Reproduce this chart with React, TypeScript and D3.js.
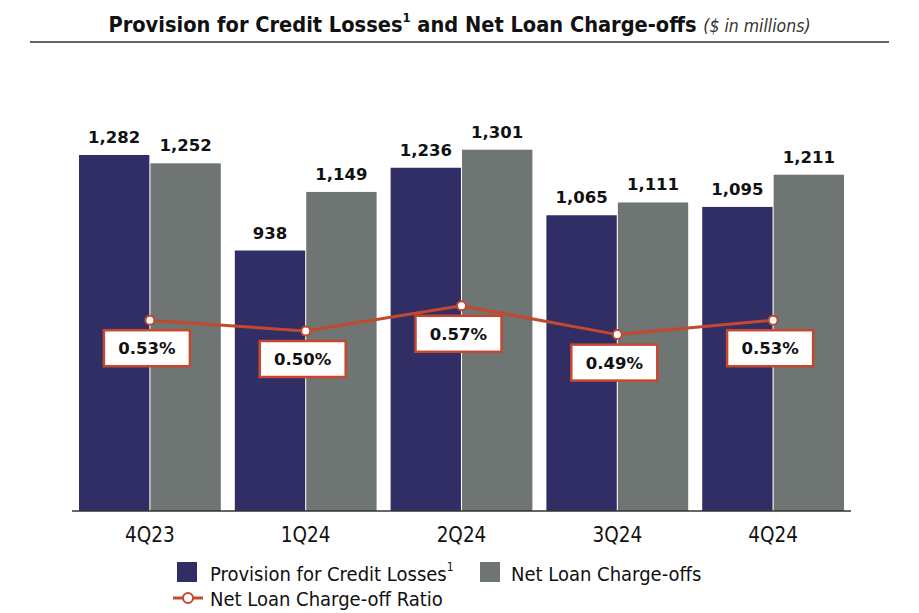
import React from "react";
import * as d3 from "d3";

const categories = ["4Q23", "1Q24", "2Q24", "3Q24", "4Q24"];
const provision = [1282, 938, 1236, 1065, 1095];
const chargeOffs = [1252, 1149, 1301, 1111, 1211];
const ratio = [0.53, 0.5, 0.57, 0.49, 0.53];
const seriesNames = ["Provision for Credit Losses", "Net Loan Charge-offs"];
const lineName = "Net Loan Charge-off Ratio";

const W = 919;
const H = 613;
const NAVY = "#312e66";
const GRAY = "#6e7572";
const RED = "#c5482e";
const COND = "'DejaVu Sans Condensed', 'Liberation Sans Narrow', sans-serif";
const BOLD = "'DejaVu Sans', Verdana, sans-serif";

export default function App() {
  const x0 = d3.scaleBand<string>().domain(categories).range([72, 851]).paddingInner(0.09).paddingOuter(0.045);
  const x1 = d3.scaleBand<string>().domain(seriesNames).range([0, x0.bandwidth()]).paddingInner(0.015);
  const y = d3.scaleLinear().domain([0, 1800]).range([511, 511 - 1800 * 0.2777]);
  const y2 = d3.scaleLinear().domain([0, 1]).range([511, 151]);
  const series = [provision, chargeOffs];
  const colors = [NAVY, GRAY];
  const cx = (c: string) => (x0(c) as number) + x0.bandwidth() / 2;
  const line = d3
    .line<number>()
    .x((_, i) => cx(categories[i]))
    .y((d) => y2(d));
  const fmt = d3.format(",");

  return (
    <svg width={W} height={H} style={{ position: "absolute", left: 0, top: 0, background: "#fff" }}>
      <text x={W / 2} y={32} textAnchor="middle" fontFamily={COND} fill="#111">
        <tspan fontWeight="bold" fontSize={21.6}>Provision for Credit Losses</tspan>
        <tspan fontWeight="bold" fontSize={13} dy={-10}>1</tspan>
        <tspan fontWeight="bold" fontSize={21.6} dy={10}> and Net Loan Charge-offs </tspan>
        <tspan fontStyle="italic" fontSize={17.5} fill="#333">($ in millions)</tspan>
      </text>
      <line x1={30} x2={889} y1={42} y2={42} stroke="#333" strokeWidth={1.5} />

      {categories.map((c, ci) => (
        <g key={c} transform={`translate(${x0(c)},0)`}>
          {series.map((s, si) => {
            const bx = x1(seriesNames[si]) as number;
            return (
              <g key={si}>
                <rect x={bx} y={y(s[ci])} width={x1.bandwidth()} height={y(0) - y(s[ci])} fill={colors[si]} />
                <text
                  x={bx + x1.bandwidth() / 2}
                  y={y(s[ci]) - 12}
                  textAnchor="middle"
                  fontFamily={BOLD}
                  fontWeight="bold"
                  fontSize={16.5}
                  fill="#111"
                >
                  {fmt(s[ci])}
                </text>
              </g>
            );
          })}
        </g>
      ))}

      <line x1={72} x2={851} y1={511} y2={511} stroke="#333" strokeWidth={1.5} />
      {categories.map((c) => (
        <text key={c} x={cx(c)} y={542} textAnchor="middle" fontFamily={COND} fontSize={20.5} fill="#111">
          {c}
        </text>
      ))}

      <path d={line(ratio) as string} fill="none" stroke={RED} strokeWidth={3} />
      {ratio.map((r, i) => {
        const px = cx(categories[i]);
        const py = y2(r);
        return (
          <g key={i}>
            <circle cx={px} cy={py} r={4.5} fill="#fff" stroke={RED} strokeWidth={2} />
            <rect x={px - 46} y={py + 10} width={86} height={36} fill="#fff" stroke={RED} strokeWidth={2.5} />
            <text x={px - 3} y={py + 34} textAnchor="middle" fontFamily={BOLD} fontWeight="bold" fontSize={16.5} fill="#111">
              {r.toFixed(2)}%
            </text>
          </g>
        );
      })}

      <g fontFamily={COND} fontSize={20} fill="#111">
        <rect x={177} y={562} width={20} height={20} fill={NAVY} />
        <text x={210} y={581}>
          {seriesNames[0]}
          <tspan fontSize={12} dy={-10}>1</tspan>
        </text>
        <rect x={480} y={562} width={20} height={20} fill={GRAY} />
        <text x={511} y={581}>{seriesNames[1]}</text>
        <line x1={173} x2={203} y1={598} y2={598} stroke={RED} strokeWidth={3} />
        <circle cx={188} cy={598} r={5} fill="#fff" stroke={RED} strokeWidth={2} />
        <text x={210} y={606}>{lineName}</text>
      </g>
    </svg>
  );
}
